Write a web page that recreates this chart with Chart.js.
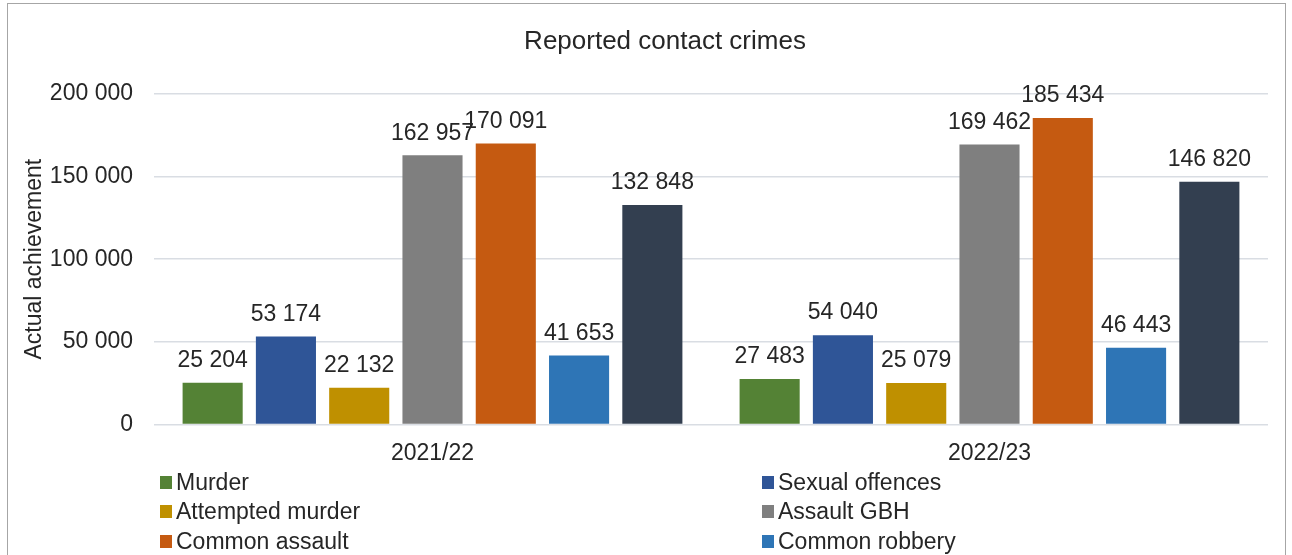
<!DOCTYPE html>
<html>
<head>
<meta charset="utf-8">
<script src="https://cdn.jsdelivr.net/npm/chart.js@4"></script>
<style>
  html, body { margin: 0; padding: 0; background: #fff; overflow: hidden; }
  body { width: 1292px; height: 555px; position: relative; font-family: "Liberation Sans", Arial, sans-serif; }
  #frame { position: absolute; left: 7px; top: 3px; width: 1279px; height: 600px; border: 1px solid #a6a6a6; box-sizing: border-box; }
  #wrap { position: absolute; left: 0; top: 0; width: 1292px; height: 488px; }
  #legend { position: absolute; left: 160px; top: 469px; width: 1100px; display: grid; grid-template-columns: 602px 500px; row-gap: 3.5px; }
  .item { display: flex; align-items: center; font-size: 23px; color: #262626; height: 26px; }
  .sw { width: 12px; height: 13px; margin-right: 4px; flex: none; }
</style>
</head>
<body>
<div id="frame"></div>
<div id="wrap"><canvas id="chart"></canvas></div>
<div id="legend"></div>
<script>
// 차트 데이터
const chartTitle = 'Reported contact crimes';
const categories = ['2021/22', '2022/23'];
const seriesNames = ['Murder', 'Sexual offences', 'Attempted murder', 'Assault GBH', 'Common assault', 'Common robbery', 'Aggravated robbery'];
const murder = [25204, 27483];
const sexualOffences = [53174, 54040];
const attemptedMurder = [22132, 25079];
const assaultGBH = [162957, 169462];
const commonAssault = [170091, 185434];
const commonRobbery = [41653, 46443];
const aggravatedRobbery = [132848, 146820];
const yTicks = [0, 50000, 100000, 150000, 200000];

const seriesValues = [murder, sexualOffences, attemptedMurder, assaultGBH, commonAssault, commonRobbery, aggravatedRobbery];
const colors = ['#548235', '#2F5597', '#BF9000', '#7F7F7F', '#C55A11', '#2E75B6', '#333F50'];

const textColor = '#262626';
const font = '"Liberation Sans", Arial, sans-serif';

// 천 단위 공백 구분
function fmt(v) {
    return String(v).replace(/\B(?=(\d{3})+(?!\d))/g, ' ');
}

// 막대 위 값 표시 + 제목 플러그인
const valueLabels = {
    id: 'valueLabels',
    afterDatasetsDraw(chart) {
        const ctx = chart.ctx;
        ctx.save();
        ctx.fillStyle = textColor;
        ctx.textAlign = 'center';
        ctx.textBaseline = 'middle';
        ctx.font = '26px ' + font;
        ctx.fillText(chartTitle, 665, 42);
        ctx.font = '23px ' + font;
        chart.data.datasets.forEach((ds, i) => {
            chart.getDatasetMeta(i).data.forEach((bar, j) => {
                ctx.fillText(fmt(ds.data[j]), bar.x, bar.y - 22);
            });
        });
        ctx.restore();
    }
};

const datasets = seriesNames.map((name, i) => ({
    label: name,
    data: seriesValues[i],
    backgroundColor: colors[i],
    borderWidth: 0,
    categoryPercentage: 0.921,
    barPercentage: 0.82
}));

new Chart(document.getElementById('chart'), {
    type: 'bar',
    data: { labels: categories, datasets: datasets },
    plugins: [valueLabels],
    options: {
        responsive: true,
        maintainAspectRatio: false,
        animation: false,
        layout: { padding: { left: 0, right: 24, top: 94, bottom: 6 } },
        plugins: {
            legend: { display: false },
            tooltip: { enabled: false },
            title: { display: false }
        },
        scales: {
            x: {
                grid: { display: false, drawTicks: false },
                border: { display: false },
                ticks: { color: textColor, font: { family: font, size: 23 }, padding: 15 }
            },
            y: {
                min: 0,
                max: 200000,
                afterBuildTicks: axis => { axis.ticks = yTicks.map(v => ({ value: v })); },
                afterFit: axis => { axis.width = 154; },
                grid: { color: '#d9dde3', lineWidth: 1.5, drawTicks: false },
                border: { display: false },
                ticks: {
                    color: textColor,
                    font: { family: font, size: 23 },
                    padding: 21,
                    callback: v => fmt(v)
                },
                title: {
                    display: true,
                    text: 'Actual achievement',
                    color: textColor,
                    font: { family: font, size: 23 },
                    padding: { top: 21, bottom: 0 }
                }
            }
        }
    }
});

// 범례 (2열)
const legendEl = document.getElementById('legend');
seriesNames.forEach((name, i) => {
    const item = document.createElement('div');
    item.className = 'item';
    item.innerHTML = `<span class="sw" style="background:${colors[i]}"></span>${name}`;
    legendEl.appendChild(item);
});
</script>
</body>
</html>
